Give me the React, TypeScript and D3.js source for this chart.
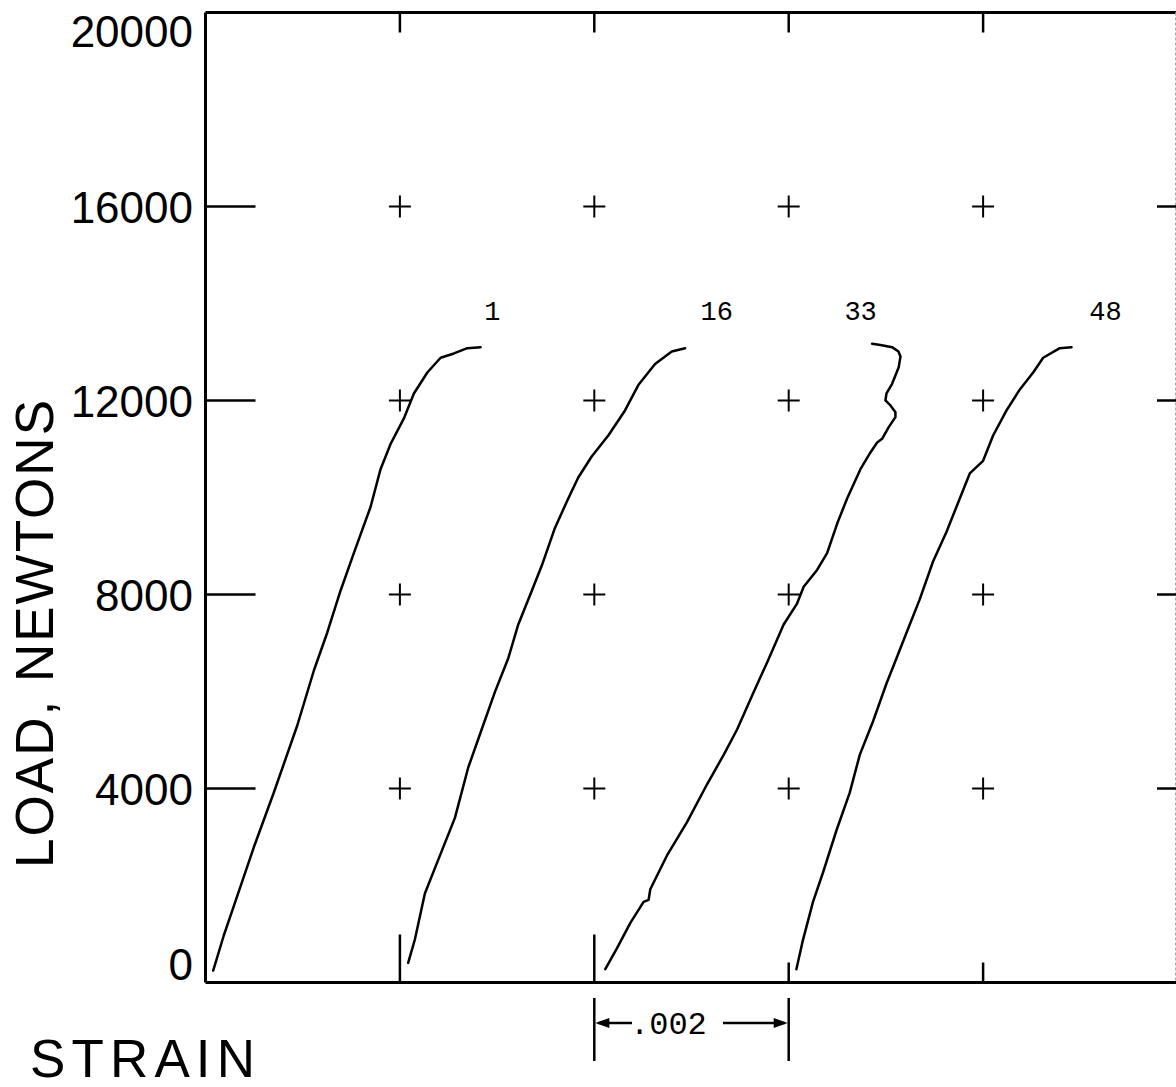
import * as d3 from 'd3';

const width = 1176;
const height = 1087;

// specimen numbers, each trace is shifted right by .002 strain
const specimens = ['1', '16', '33', '48'];
const offsets = [0, 0.002, 0.004, 0.006];

// strain in microstrain from each trace's own origin, load in newtons
const strain1 = [79, 188, 291, 497, 703, 944, 1115, 1253, 1390, 1526, 1698, 1801, 1904, 2041, 2144, 2282, 2419, 2556, 2694, 2831];
const load1 = [247, 969, 1575, 2788, 3918, 5299, 6433, 7217, 8083, 8852, 9805, 10584, 11104, 11630, 12145, 12578, 12881, 12970, 13079, 13098];

const strain16 = [85, 154, 257, 394, 566, 703, 841, 978, 1115, 1218, 1356, 1459, 1595, 1732, 1835, 1973, 2144, 2316, 2453, 2625, 2797, 2934];
const load16 = [404, 887, 1835, 2528, 3394, 4433, 5217, 5992, 6687, 7382, 8073, 8592, 9372, 9980, 10413, 10846, 11279, 11795, 12318, 12752, 13011, 13079];

const strain33 = [113, 234, 371, 507, 559, 576, 748, 954, 1160, 1331, 1469, 1640, 1778, 1948, 2086, 2154, 2292, 2395, 2498, 2601, 2738, 2841, 2910, 2961, 3029, 3098, 3098, 3047, 2995, 3006, 3064, 3098, 3132, 3150, 3129, 3064, 2944, 2858];
const load33 = [274, 709, 1229, 1662, 1705, 1922, 2619, 3307, 4087, 4693, 5217, 5992, 6598, 7382, 7813, 8159, 8506, 8852, 9458, 9980, 10584, 10929, 11135, 11211, 11450, 11657, 11760, 11898, 12001, 12145, 12345, 12516, 12688, 12908, 13011, 13100, 13145, 13170];

const strain48 = [79, 147, 250, 353, 491, 628, 731, 868, 1006, 1109, 1211, 1348, 1485, 1623, 1760, 1863, 2000, 2103, 2241, 2378, 2515, 2618, 2789, 2910];
const load48 = [274, 880, 1662, 2268, 3134, 3914, 4693, 5386, 6165, 6687, 7207, 7899, 8681, 9287, 9980, 10496, 10757, 11279, 11795, 12228, 12578, 12881, 13079, 13098];

const strains = [strain1, strain16, strain33, strain48];
const loads = [load1, load16, load33, load48];

// where the specimen numbers sit
const labelStrain = [0.00295, 0.00526, 0.00674, 0.00926];
const labelLoad = [13660, 13660, 13660, 13660];

const yTicks = [0, 4000, 8000, 12000, 16000, 20000];
const gridLoads = [4000, 8000, 12000, 16000];
const xTicks = [0.002, 0.004, 0.006, 0.008];

const x = d3.scaleLinear().domain([0, 0.01]).range([205.5, 1177.5]);
const y = d3.scaleLinear().domain([0, 20000]).range([982.5, 12.5]);

const line = d3
  .line<[number, number]>()
  .x((d) => x(d[0]))
  .y((d) => y(d[1]));

const traces = specimens.map((name, i) => ({
  name,
  points: strains[i].map((s, j) => [s * 1e-6 + offsets[i], loads[i][j]] as [number, number]),
}));

const bottomTickLen = [48, 48, 20, 20];

export default function App() {
  const x0 = x(0);
  const x1 = x(0.01);
  const yTop = y(20000);
  const yBot = y(0);
  const dimL = x(0.004);
  const dimR = x(0.006);
  const dimY = 1023;

  return (
    <svg
      width={width}
      height={height}
      style={{ position: 'absolute', left: 0, top: 0, background: '#fff' }}
    >
      <rect width={width} height={height} fill="#fff" />

      {/* frame */}
      <g stroke="#000" strokeWidth={3} fill="none">
        <line x1={x0} y1={yTop} x2={x1} y2={yTop} />
        <line x1={x0} y1={yTop} x2={x0} y2={yBot} />
        <line x1={x0} y1={yBot} x2={x1} y2={yBot} />
      </g>
      <line x1={1175.5} y1={yTop} x2={1175.5} y2={yBot} stroke="#aaa" strokeWidth={1} strokeDasharray="3 2" />

      {/* ticks */}
      <g stroke="#000" strokeWidth={2.5}>
        {gridLoads.map((v) => (
          <g key={'yt' + v}>
            <line x1={x0} y1={y(v)} x2={x0 + 50} y2={y(v)} />
            <line x1={1157} y1={y(v)} x2={1176} y2={y(v)} />
          </g>
        ))}
        {xTicks.map((v, i) => (
          <g key={'xt' + v}>
            <line x1={x(v)} y1={yTop} x2={x(v)} y2={yTop + 20} />
            <line x1={x(v)} y1={yBot} x2={x(v)} y2={yBot - bottomTickLen[i]} />
          </g>
        ))}
      </g>

      {/* grid crosses */}
      <g stroke="#000" strokeWidth={2}>
        {xTicks.map((sx) =>
          gridLoads.map((ly) => (
            <g key={`c${sx}-${ly}`}>
              <line x1={x(sx) - 11} y1={y(ly)} x2={x(sx) + 11} y2={y(ly)} />
              <line x1={x(sx)} y1={y(ly) - 11} x2={x(sx)} y2={y(ly) + 11} />
            </g>
          ))
        )}
      </g>

      {/* y tick labels */}
      <g fontFamily="'Liberation Sans', Arial, sans-serif" fontSize={44} textAnchor="end" fill="#000">
        {yTicks.map((v) => (
          <text key={'yl' + v} x={193} y={Math.min(Math.max(y(v) + 16, 47), 980)}>
            {v}
          </text>
        ))}
      </g>

      {/* axis titles */}
      <text
        transform={`translate(53, 634) rotate(-90)`}
        fontFamily="'Liberation Sans', Arial, sans-serif"
        fontSize={53}
        textAnchor="middle"
        textLength={468}
        lengthAdjust="spacing"
      >
        LOAD, NEWTONS
      </text>
      <text
        x={30}
        y={1077}
        fontFamily="'Liberation Sans', Arial, sans-serif"
        fontSize={53}
        textLength={225}
        lengthAdjust="spacing"
      >
        STRAIN
      </text>

      {/* traces */}
      <g fill="none" stroke="#000" strokeWidth={2.5} strokeLinejoin="round" strokeLinecap="round">
        {traces.map((t) => (
          <path key={t.name} d={line(t.points) || ''} />
        ))}
      </g>

      {/* specimen numbers */}
      <g fontFamily="'Liberation Mono', 'Courier New', monospace" fontSize={27} textAnchor="middle">
        {specimens.map((s, i) => (
          <text key={'lab' + s} x={x(labelStrain[i])} y={y(labelLoad[i])}>
            {s}
          </text>
        ))}
      </g>

      {/* .002 strain dimension */}
      <g stroke="#000" strokeWidth={2.5}>
        <line x1={dimL} y1={998} x2={dimL} y2={1061} />
        <line x1={dimR} y1={998} x2={dimR} y2={1061} />
        <line x1={dimL + 4} y1={dimY} x2={632} y2={dimY} />
        <line x1={723} y1={dimY} x2={dimR - 4} y2={dimY} />
      </g>
      <path d={`M${dimL + 1},${dimY} l14,-5 l0,10 z`} fill="#000" />
      <path d={`M${dimR - 1},${dimY} l-14,-5 l0,10 z`} fill="#000" />
      <text
        x={630}
        y={1034}
        fontFamily="'Liberation Mono', 'Courier New', monospace"
        fontSize={32}
        textAnchor="start"
      >
        .002
      </text>
    </svg>
  );
}
